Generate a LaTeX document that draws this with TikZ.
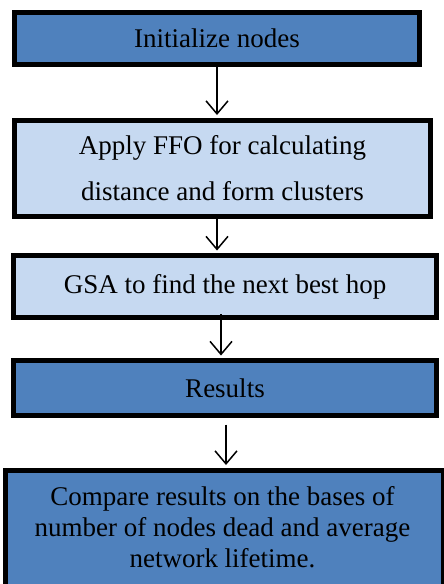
\documentclass[tikz,border=0pt]{standalone}
\usepackage{fontspec}
\setmainfont{Liberation Serif}
\usetikzlibrary{arrows.meta}
\definecolor{darkb}{HTML}{4F81BD}
\definecolor{lightb}{HTML}{C6D9F1}
\begin{document}
\begin{tikzpicture}[x=1pt,y=-1pt,
  box/.style={draw=black,line width=5pt,inner sep=0pt,align=center,
    font=\fontsize{27}{31}\selectfont},
  arr/.style={line width=1.5pt,
    -{Straight Barb[length=13pt,width=22pt,line width=1.5pt]},shorten >=2.5pt}]
\useasboundingbox (0,0) rectangle (444,584);
\node[box,fill=darkb,minimum width=405pt,minimum height=52pt] (b1) at (217,38.5) {Initialize nodes};
\node[box,fill=lightb,minimum width=416pt,minimum height=96pt,
  font=\fontsize{27}{46}\selectfont] (b2) at (222.5,168) {Apply FFO for calculating\\distance and form clusters};
\node[box,fill=lightb,minimum width=423pt,minimum height=62pt] (b3) at (225,286.5) {GSA to find the next best hop};
\node[box,fill=darkb,minimum width=423pt,minimum height=55pt] (b4) at (225,388) {Results};
\node[box,fill=darkb,minimum width=438pt,minimum height=120pt,anchor=north] (b5) at (224.5,467.5) {};
\node[font=\fontsize{27}{31}\selectfont,align=center,inner sep=0pt] (t5) at (222.5,527) {Compare results on the bases of\\number of nodes dead and average\\network lifetime.};
\draw[arr] (b1.south) -- (b1.south |- b2.north);
\draw[arr] (b1.south |- b2.south) -- (b1.south |- b3.north);
\draw[arr] ([xshift=-4pt,yshift=6pt]b3.south) -- ([xshift=-4pt]b3.south |- b4.north);
\draw[arr] ([xshift=1pt,yshift=-6.5pt]b4.south) -- ([xshift=1pt]b4.south |- b5.north);
\end{tikzpicture}
\end{document}
